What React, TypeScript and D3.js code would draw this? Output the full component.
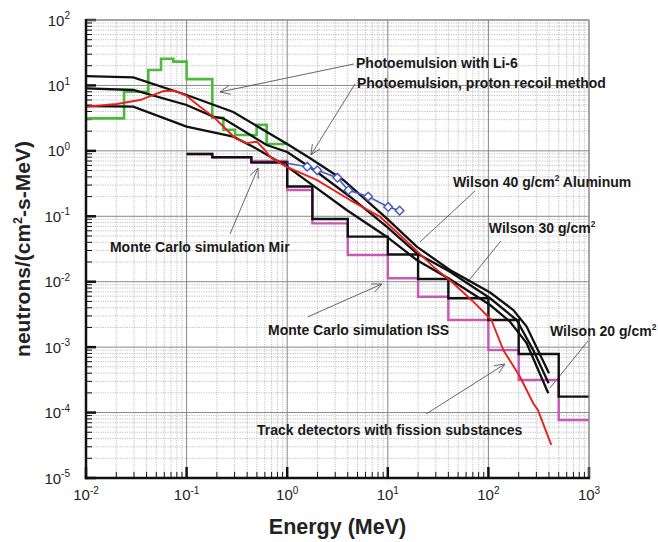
import React from 'react';
import * as d3 from 'd3';

const W = 658;
const H = 542;

// axes
const xDomain: [number, number] = [1e-2, 1e3];
const yDomain: [number, number] = [1e-5, 1e2];
const xTickExps = [-2, -1, 0, 1, 2, 3];
const yTickExps = [2, 1, 0, -1, -2, -3, -4, -5];

// Photoemulsion with Li-6 (green histogram)
const greenEdges = [0.01, 0.0239, 0.0416, 0.0557, 0.0738, 0.1, 0.18, 0.232, 0.303, 0.497, 0.625, 1.0];
const greenValues = [3.14, 8.0, 17.2, 25.6, 23.1, 12.5, 3.2, 2.1, 1.75, 2.5, 1.27];

// Black and magenta histograms
const stepEdges = [0.1, 0.18, 0.44, 1.0, 1.78, 4, 10, 20, 40, 100, 200, 500, 1000];
const blackStepValues = [0.895, 0.8, 0.665, 0.285, 0.091, 0.0488, 0.0261, 0.011, 0.00558, 0.0026, 7.86e-4, 1.75e-4];
const magentaStepValues = [0.895, 0.8, 0.7, 0.252, 0.078, 0.0256, 0.0113, 0.0059, 0.0026, 9.0e-4, 3.15e-4, 7.7e-5];

// Red curve
const redE = [0.01, 0.0202, 0.0344, 0.0587, 0.0767, 0.1, 0.136, 0.184, 0.303, 0.396, 0.497, 0.6, 0.675, 0.99, 1.96, 4.21, 8.36, 13.2, 28.3, 44.8, 70.8, 107, 141, 206, 279, 311, 422];
const redV = [4.73, 5.2, 5.98, 8.2, 8.3, 6.9, 4.73, 3.33, 1.57, 1.31, 1.38, 1.03, 0.81, 0.57, 0.36, 0.177, 0.0986, 0.0518, 0.017, 0.00946, 0.00495, 0.0026, 9.0e-4, 3.53e-4, 1.39e-4, 1.09e-4, 3.2e-5];

// Wilson curves
const wilsonAE = [0.01, 0.0295, 0.1, 0.291, 1.0, 1.69, 3.61, 9.75, 19.4, 41.5, 104, 177, 240, 400];
const wilsonAV = [13.9, 13.3, 7.14, 3.93, 1.27, 0.769, 0.359, 0.0931, 0.0343, 0.0151, 0.00684, 0.0037, 0.00206, 3.98e-4];
const wilsonBE = [0.01, 0.0295, 0.1, 0.184, 0.23, 0.625, 1.0, 1.96, 4.21, 9.75, 19.4, 41.5, 104, 191, 279, 397];
const wilsonBV = [9.04, 8.51, 5.02, 3.33, 3.15, 1.23, 0.96, 0.48, 0.199, 0.0693, 0.0272, 0.0142, 0.00558, 0.0026, 9.0e-4, 2.8e-4];
const wilsonCE = [0.01, 0.0295, 0.1, 0.291, 0.457, 1.0, 1.69, 3.9, 9.75, 19.4, 41.5, 104, 164, 240, 394];
const wilsonCV = [4.85, 4.73, 2.34, 1.65, 1.16, 0.573, 0.319, 0.125, 0.0488, 0.0215, 0.0109, 0.0044, 0.00245, 0.00115, 1.97e-4];

// Photoemulsion, proton recoil method (blue); first point is the line start (no marker)
const blueE = [1.0, 1.58, 1.99, 3.15, 4.06, 6.38, 10.1, 13.1];
const blueV = [0.646, 0.573, 0.505, 0.389, 0.25, 0.2, 0.139, 0.122];
const blueMarked = [false, true, true, true, true, true, true, true];

// Annotations: text anchor, line start, line end (data coordinates)
const annTexts = [
  'Photoemulsion with Li-6',
  'Photoemulsion, proton recoil method',
  'Wilson 40 g/cm|2| Aluminum',
  'Wilson 30 g/cm|2|',
  'Wilson 20 g/cm|2|',
  'Monte Carlo simulation ISS',
  'Monte Carlo simulation Mir',
  'Track detectors with fission substances',
];
const annTextAt: [number, number][] = [
  [4.83, 18.5], [4.94, 9.14], [44.5, 0.28], [101, 0.0556], [409, 0.00148], [0.644, 0.00153], [0.0173, 0.0284], [0.501, 4.54e-5],
];
const annFrom: [number, number][] = [
  [4.61, 21.3], [4.72, 10.5], [73.6, 0.244], [133, 0.0419], [977, 0.00124], [1.6, 0.0029], [0.27, 0.0536], [24, 9.5e-5],
];
const annTo: [number, number][] = [
  [0.215, 7.94], [1.72, 0.865], [20.9, 0.0405], [59.9, 0.00923], [409, 2.38e-4], [8.75, 0.00923], [0.513, 0.547], [146, 5.52e-4],
];
const annArrow = [true, true, false, false, false, true, true, true];

const FONT = 'Arial, "Liberation Sans", Helvetica, sans-serif';

function Sup({ base, exp, size, supSize }: { base: string; exp: string; size: number; supSize: number }) {
  return (
    <>
      <tspan fontSize={size}>{base}</tspan>
      <tspan fontSize={supSize} dy={-size * 0.42}>{exp}</tspan>
    </>
  );
}

function renderAnnText(t: string, size: number) {
  const parts = t.split('|');
  const out: any[] = [];
  parts.forEach((p, i) => {
    if (i % 2 === 1) {
      out.push(<tspan key={i} fontSize={size * 0.6} dy={-size * 0.4}>{p}</tspan>);
    } else {
      out.push(<tspan key={i} dy={i === 0 ? 0 : size * 0.4}>{p}</tspan>);
    }
  });
  return out;
}

export default function App() {
  const x = d3.scaleLog().domain(xDomain).range([86, 589]);
  const y = d3.scaleLog().domain(yDomain).range([478, 20]);
  const [x0, x1] = x.range();
  const [y0, y1] = [y.range()[1], y.range()[0]]; // top, bottom

  const minorX: number[] = [];
  for (let e = -2; e < 3; e++) for (let k = 2; k <= 9; k++) minorX.push(k * Math.pow(10, e));
  const minorY: number[] = [];
  for (let e = -5; e < 2; e++) for (let k = 2; k <= 9; k++) minorY.push(k * Math.pow(10, e));
  const majorX = xTickExps.map((e) => Math.pow(10, e));
  const majorY = yTickExps.map((e) => Math.pow(10, e));

  const lineGen = d3
    .line<[number, number]>()
    .x((d) => x(d[0]))
    .y((d) => y(d[1]));
  const stepGen = d3
    .line<[number, number]>()
    .x((d) => x(d[0]))
    .y((d) => y(d[1]))
    .curve(d3.curveStepAfter);

  const stepPts = (edges: number[], vals: number[]): [number, number][] => {
    const pts: [number, number][] = vals.map((v, i) => [edges[i], v]);
    pts.push([edges[edges.length - 1], vals[vals.length - 1]]);
    return pts;
  };
  const zipPts = (a: number[], b: number[]): [number, number][] => a.map((v, i) => [v, b[i]]);

  const arrowHead = (fx: number, fy: number, tx: number, ty: number) => {
    const ang = Math.atan2(ty - fy, tx - fx);
    const L = 11;
    const a = 0.42;
    const p1 = [tx - L * Math.cos(ang - a), ty - L * Math.sin(ang - a)];
    const p2 = [tx - L * Math.cos(ang + a), ty - L * Math.sin(ang + a)];
    return `M${p1[0]},${p1[1]}L${tx},${ty}L${p2[0]},${p2[1]}`;
  };

  return (
    <svg width={W} height={H} style={{ position: 'absolute', left: 0, top: 0, background: '#fff' }} fontFamily={FONT}>
      <rect x={0} y={0} width={W} height={H} fill="#fff" />
      {/* minor grid */}
      <g stroke="#b0b0b0" strokeWidth={0.8} strokeDasharray="1.2,1.2">
        {minorX.map((v, i) => (
          <line key={'mx' + i} x1={x(v)} x2={x(v)} y1={y0} y2={y1} />
        ))}
        {minorY.map((v, i) => (
          <line key={'my' + i} x1={x0} x2={x1} y1={y(v)} y2={y(v)} />
        ))}
      </g>
      {/* major grid */}
      <g stroke="#888" strokeWidth={1}>
        {majorX.map((v, i) => (
          <line key={'MX' + i} x1={x(v)} x2={x(v)} y1={y0} y2={y1} />
        ))}
        {majorY.map((v, i) => (
          <line key={'MY' + i} x1={x0} x2={x1} y1={y(v)} y2={y(v)} />
        ))}
      </g>
      {/* ticks */}
      <g stroke="#111">
        {minorY.map((v, i) => (
          <line key={'ty' + i} x1={x0} x2={x0 + 6} y1={y(v)} y2={y(v)} strokeWidth={1} />
        ))}
        {majorY.map((v, i) => (
          <line key={'TY' + i} x1={x0} x2={x0 + 10} y1={y(v)} y2={y(v)} strokeWidth={2.5} />
        ))}
        {minorX.map((v, i) => (
          <line key={'tx' + i} x1={x(v)} x2={x(v)} y1={y1} y2={y1 - 6} strokeWidth={1} />
        ))}
        {majorX.map((v, i) => (
          <line key={'TX' + i} x1={x(v)} x2={x(v)} y1={y1} y2={y1 - 11} strokeWidth={2.5} />
        ))}
      </g>

      {/* annotation lines */}
      <g stroke="#555" strokeWidth={0.9} fill="none">
        {annFrom.map((f, i) => {
          const fx = x(f[0]), fy = y(f[1]);
          const tx = x(annTo[i][0]), ty = y(annTo[i][1]);
          return (
            <g key={'al' + i}>
              <line x1={fx} y1={fy} x2={tx} y2={ty} />
              {annArrow[i] && <path d={arrowHead(fx, fy, tx, ty)} />}
            </g>
          );
        })}
      </g>

      {/* data */}
      <g fill="none" strokeLinejoin="miter">
        <path d={stepGen(stepPts(greenEdges, greenValues)) || ''} stroke="#4cbb3c" strokeWidth={2.6} />
        <path d={stepGen(stepPts(stepEdges, magentaStepValues)) || ''} stroke="#c957b6" strokeWidth={2.4} />
        <path d={stepGen(stepPts(stepEdges, blackStepValues)) || ''} stroke="#111" strokeWidth={2.4} />
        <path d={lineGen(zipPts(wilsonAE, wilsonAV)) || ''} stroke="#111" strokeWidth={2.3} />
        <path d={lineGen(zipPts(wilsonBE, wilsonBV)) || ''} stroke="#111" strokeWidth={2.3} />
        <path d={lineGen(zipPts(wilsonCE, wilsonCV)) || ''} stroke="#111" strokeWidth={2.3} />
        <path d={lineGen(zipPts(redE, redV)) || ''} stroke="#e5231c" strokeWidth={1.9} strokeLinejoin="round" />
        <path d={lineGen(zipPts(blueE, blueV)) || ''} stroke="#4a5cc0" strokeWidth={1.6} />
        {blueE.map((e, i) => {
          if (!blueMarked[i]) return null;
          const cx = x(e), cy = y(blueV[i]);
          const r = 4.3;
          return (
            <path
              key={'bm' + i}
              d={`M${cx},${cy - r}L${cx + r},${cy}L${cx},${cy + r}L${cx - r},${cy}Z`}
              stroke="#4a5cc0"
              strokeWidth={1.5}
              fill="#fff"
            />
          );
        })}
      </g>

      {/* frame */}
      <line x1={x0} x2={x1} y1={y0} y2={y0} stroke="#888" strokeWidth={1} />
      <line x1={x1} x2={x1} y1={y0} y2={y1} stroke="#888" strokeWidth={1} />
      <line x1={x0} x2={x0} y1={y0 - 1} y2={y1 + 1.2} stroke="#111" strokeWidth={2.5} />
      <line x1={x0 - 1.2} x2={x1 + 1} y1={y1} y2={y1} stroke="#111" strokeWidth={2.5} />

      {/* annotation texts */}
      <g fontWeight="bold" fontSize={14} fill="#1a1a1a">
        {annTexts.map((t, i) => (
          <text key={'at' + i} x={x(annTextAt[i][0])} y={y(annTextAt[i][1])}>
            {renderAnnText(t, 14)}
          </text>
        ))}
      </g>

      {/* tick labels */}
      <g fill="#222">
        {yTickExps.map((e) => (
          <text key={'yl' + e} x={x0 - 16} y={y(Math.pow(10, e)) + 5.5} textAnchor="end">
            <Sup base="10" exp={String(e)} size={15} supSize={10} />
          </text>
        ))}
        {xTickExps.map((e) => (
          <text key={'xl' + e} x={x(Math.pow(10, e))} y={y1 + 22} textAnchor="middle">
            <Sup base="10" exp={String(e)} size={15} supSize={10} />
          </text>
        ))}
      </g>

      {/* axis titles */}
      <text x={(x0 + x1) / 2} y={534} textAnchor="middle" fontWeight="bold" fontSize={21.5} fill="#222">
        Energy (MeV)
      </text>
      <text
        transform={`translate(30, ${(y0 + y1) / 2}) rotate(-90)`}
        textAnchor="middle"
        fontWeight="bold"
        fontSize={21}
        fill="#222"
      >
        <tspan>neutrons/(cm</tspan>
        <tspan fontSize={12.5} dy={-8.5}>2</tspan>
        <tspan dy={8.5}>-s-MeV)</tspan>
      </text>
    </svg>
  );
}
